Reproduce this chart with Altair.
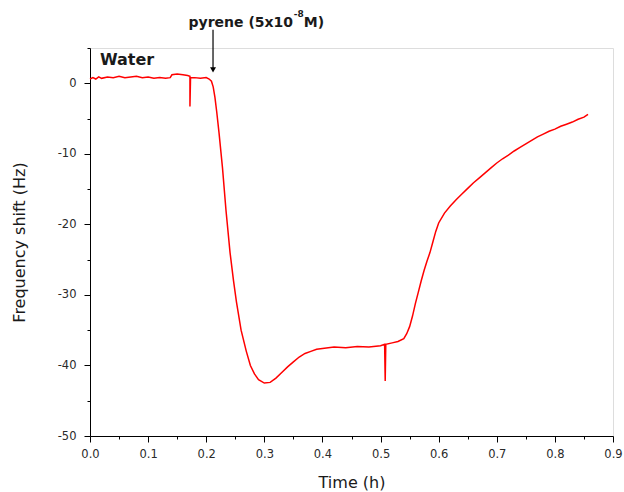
import altair as alt
import pandas as pd

# Time (h) and frequency shift (Hz)
time_h = [0.0, 0.005, 0.01, 0.015, 0.02, 0.03, 0.04, 0.05, 0.06, 0.07, 0.08, 0.09, 0.10,
          0.11, 0.12, 0.13, 0.138, 0.141, 0.15, 0.16, 0.168, 0.172, 0.172, 0.173, 0.18,
          0.19, 0.20, 0.205, 0.209, 0.212, 0.215, 0.218, 0.222, 0.228, 0.234, 0.241,
          0.247, 0.252, 0.26, 0.269, 0.276, 0.283, 0.29, 0.30, 0.31, 0.32, 0.33, 0.34,
          0.35, 0.36, 0.37, 0.38, 0.39, 0.40, 0.42, 0.44, 0.46, 0.48, 0.50, 0.507,
          0.508, 0.509, 0.52, 0.53, 0.54, 0.545, 0.55, 0.555, 0.56, 0.565, 0.57, 0.575,
          0.58, 0.585, 0.59, 0.595, 0.60, 0.61, 0.62, 0.63, 0.64, 0.65, 0.66, 0.67,
          0.68, 0.69, 0.70, 0.71, 0.72, 0.73, 0.74, 0.75, 0.76, 0.77, 0.78, 0.79, 0.80,
          0.81, 0.82, 0.83, 0.84, 0.85, 0.857]
shift_hz = [0.6, 0.8, 0.6, 0.9, 0.7, 0.9, 0.8, 1.0, 0.8, 0.9, 1.0, 0.8, 0.9,
            0.7, 0.8, 0.7, 0.8, 1.2, 1.3, 1.2, 1.1, 1.0, -3.3, 0.8, 0.8,
            0.7, 0.8, 0.6, 0.3, -0.5, -2.0, -4.0, -7.0, -12.0, -18.0, -24.0,
            -28.0, -31.0, -35.0, -38.0, -40.0, -41.2, -42.0, -42.5, -42.4, -41.8, -41.0, -40.2,
            -39.5, -38.8, -38.3, -38.0, -37.7, -37.6, -37.4, -37.5, -37.3, -37.4, -37.2, -37.0,
            -42.2, -37.0, -36.8, -36.6, -36.2, -35.5, -34.5, -33.0, -31.2, -29.6, -28.0, -26.5,
            -25.2, -24.0, -22.5, -21.0, -19.8, -18.4, -17.4, -16.5, -15.7, -14.9, -14.1, -13.4,
            -12.7, -12.0, -11.3, -10.7, -10.2, -9.6, -9.1, -8.6, -8.1, -7.6, -7.2, -6.8, -6.5,
            -6.1, -5.8, -5.5, -5.1, -4.8, -4.4]

x_major = [0.0, 0.1, 0.2, 0.3, 0.4, 0.5, 0.6, 0.7, 0.8, 0.9]
x_minor = [0.05, 0.15, 0.25, 0.35, 0.45, 0.55, 0.65, 0.75, 0.85]
y_major = [0, -10, -20, -30, -40, -50]
y_minor = [5, -5, -15, -25, -35, -45]

# annotations
water_text = ["Water"]
water_t = [0.0172]
water_v = [2.6]
pyr_text = ["pyrene (5x10"]
pyr_t = [0.3494]
pyr_v = [8.0]
sup_text = ["-8"]
sup_t = [0.3505]
sup_v = [9.4]
mol_text = ["M)"]
mol_t = [0.368]
mol_v = [8.0]
arrow_t = [0.2117, 0.2117]
arrow_v = [7.6, 1.9]

df = pd.DataFrame({"t": time_h, "v": shift_hz, "i": list(range(len(time_h)))})
FONT = "DejaVu Sans"
TXT = "#1a1a1a"

xs = alt.Scale(domain=[0, 0.9], nice=False, zero=False)
ys = alt.Scale(domain=[-50, 5], nice=False, zero=False)

x_axis = alt.Axis(values=x_major, format=".1f", tickSize=6, labelPadding=6,
                  title="Time (h)", titleFontSize=16, titleFontWeight="normal",
                  titleFont=FONT, titlePadding=15, labelFont=FONT, labelFontSize=11.5,
                  labelColor="#2a2a2a", titleColor=TXT, domainColor="#000000",
                  tickColor="#000000", grid=False, labelFlush=False, orient="bottom")
y_axis = alt.Axis(values=y_major, labelExpr="'' + datum.value", tickSize=6, labelPadding=8,
                  title="Frequency shift (Hz)", titleFontSize=16, titleFontWeight="normal",
                  titleFont=FONT, titlePadding=30, labelFont=FONT, labelFontSize=11.5,
                  labelColor="#2a2a2a", titleColor=TXT, domainColor="#000000",
                  tickColor="#000000", grid=False, labelFlush=False, orient="left")

line = alt.Chart(df).mark_line(color="#ff0000", strokeWidth=1.5).encode(
    x=alt.X("t:Q", scale=xs, axis=x_axis),
    y=alt.Y("v:Q", scale=ys, axis=y_axis),
    order="i:Q",
)

minor = alt.Chart(df).mark_point(opacity=0).encode(
    x=alt.X("t:Q", scale=xs, axis=alt.Axis(values=x_minor, labels=False, tickSize=3,
                                           title=None, domain=False, grid=False,
                                           tickColor="#000000", orient="bottom")),
    y=alt.Y("v:Q", scale=ys, axis=alt.Axis(values=y_minor, labels=False, tickSize=3,
                                           title=None, domain=False, grid=False,
                                           tickColor="#000000", orient="left")),
)


def label(texts, ts, vs, size, align):
    d = pd.DataFrame({"t": ts, "v": vs, "txt": texts})
    return alt.Chart(d).mark_text(
        font=FONT, fontSize=size, fontWeight="bold", align=align,
        baseline="alphabetic", color=TXT
    ).encode(
        x=alt.X("t:Q", scale=xs, axis=None),
        y=alt.Y("v:Q", scale=ys, axis=None),
        text="txt:N",
    )


water = label(water_text, water_t, water_v, 16, "left")
pyr = label(pyr_text, pyr_t, pyr_v, 14, "right")
sup = label(sup_text, sup_t, sup_v, 9, "left")
mol = label(mol_text, mol_t, mol_v, 14, "left")

adf = pd.DataFrame({"t": arrow_t, "v": arrow_v})
arrow_line = alt.Chart(adf).mark_line(color="#000000", strokeWidth=1.2).encode(
    x=alt.X("t:Q", scale=xs, axis=None), y=alt.Y("v:Q", scale=ys, axis=None))
arrow_head = alt.Chart(adf.iloc[[1]]).mark_point(
    shape="triangle-down", filled=True, color="#000000", size=35, opacity=1).encode(
    x=alt.X("t:Q", scale=xs, axis=None), y=alt.Y("v:Q", scale=ys, axis=None))

chart = alt.layer(line, minor, water, pyr, mol, sup, arrow_line, arrow_head).resolve_axis(
    x="independent", y="independent"
).properties(
    width=523, height=388,
    autosize=alt.AutoSizeParams(type="none"),
    padding={"left": 90, "top": 48, "right": 11, "bottom": 56},
).configure_view(stroke=None).configure(background="#ffffff")

chart.save("out.html", embed_options={"renderer": "svg", "actions": False})
